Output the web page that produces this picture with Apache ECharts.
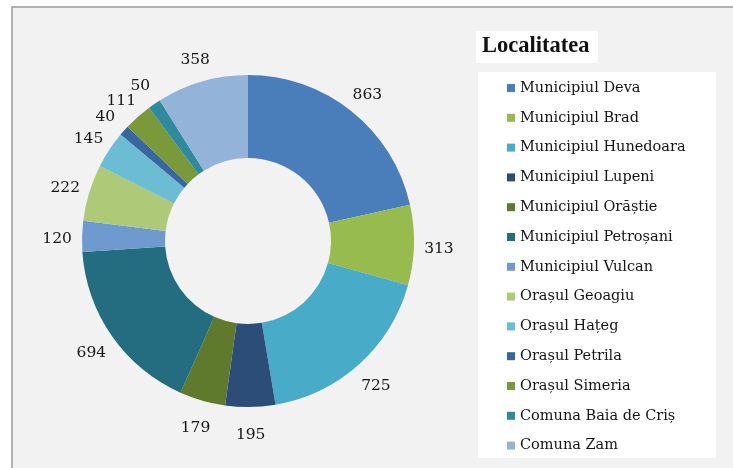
<!DOCTYPE html>
<html>
<head>
<meta charset="utf-8">
<script src="https://cdn.jsdelivr.net/npm/echarts@6/dist/echarts.min.js"></script>
<style>
html,body{margin:0;padding:0;background:#ffffff;}
#main{width:733px;height:468px;}
</style>
</head>
<body>
<div id="main"></div>
<script>
const categories = ["Municipiul Deva","Municipiul Brad","Municipiul Hunedoara","Municipiul Lupeni","Municipiul Orăștie","Municipiul Petroșani","Municipiul Vulcan","Orașul Geoagiu","Orașul Hațeg","Orașul Petrila","Orașul Simeria","Comuna Baia de Criș","Comuna Zam"];
const values = [863,313,725,195,179,694,120,222,145,40,111,50,358];
const colors = ["#4a7ebb","#98bb50","#48acc8","#2b4d77","#5f7a2c","#246d80","#6f9ad0","#aec977","#6cbdd3","#3766a0","#79993a","#2f8aa0","#94b3d9"];
const legendTitle = "Localitatea";

const FONT = "'DejaVu Serif', 'Liberation Serif', serif";
const TFONT = "'Liberation Serif', serif";
const chart = echarts.init(document.getElementById('main'), null, {renderer:'canvas'});
const data = categories.map((n,i)=>({name:n, value:values[i], itemStyle:{color:colors[i]}}));
const labelData = categories.map((n,i)=>({name:n, value:values[i]}));

chart.setOption({
  animation:false,
  backgroundColor:'#ffffff',
  graphic:[
    {type:'rect', z:-10, shape:{x:12,y:7,width:740,height:480}, style:{fill:'#f2f2f2', stroke:'#9a9a9a', lineWidth:1.5}},
    {type:'rect', z:-9, shape:{x:476,y:31,width:122,height:32}, style:{fill:'#ffffff'}},
    {type:'rect', z:-9, shape:{x:478,y:72,width:238,height:386}, style:{fill:'#ffffff'}},
    {type:'text', left:482, top:35, style:{text:legendTitle, font:"bold 22.5px " + TFONT, fill:'#111111'}}
  ],
  legend:{
    orient:'vertical', left:502, top:74,
    itemWidth:8, itemHeight:8, itemGap:11.8,
    icon:'rect',
    data:categories,
    textStyle:{fontFamily:FONT, fontSize:14.5, color:'#151515', lineHeight:18}
  },
  series:[
    {
      type:'pie', center:[248,241], radius:[83,166],
      startAngle:90, clockwise:true,
      label:{show:false}, labelLine:{show:false},
      emphasis:{disabled:true},
      data:data
    },
    {
      type:'pie', center:[248,244], radius:[166,210],
      startAngle:90, clockwise:true, silent:true,
      avoidLabelOverlap:false,
      labelLayout:{hideOverlap:false},
      itemStyle:{color:'rgba(0,0,0,0)'},
      legendHoverLink:false,
      label:{show:true, position:'inside', formatter:'{c}', fontFamily:FONT, fontSize:15.5, color:'#151515'},
      labelLine:{show:false},
      emphasis:{disabled:true},
      data:labelData
    }
  ]
});
</script>
</body>
</html>
